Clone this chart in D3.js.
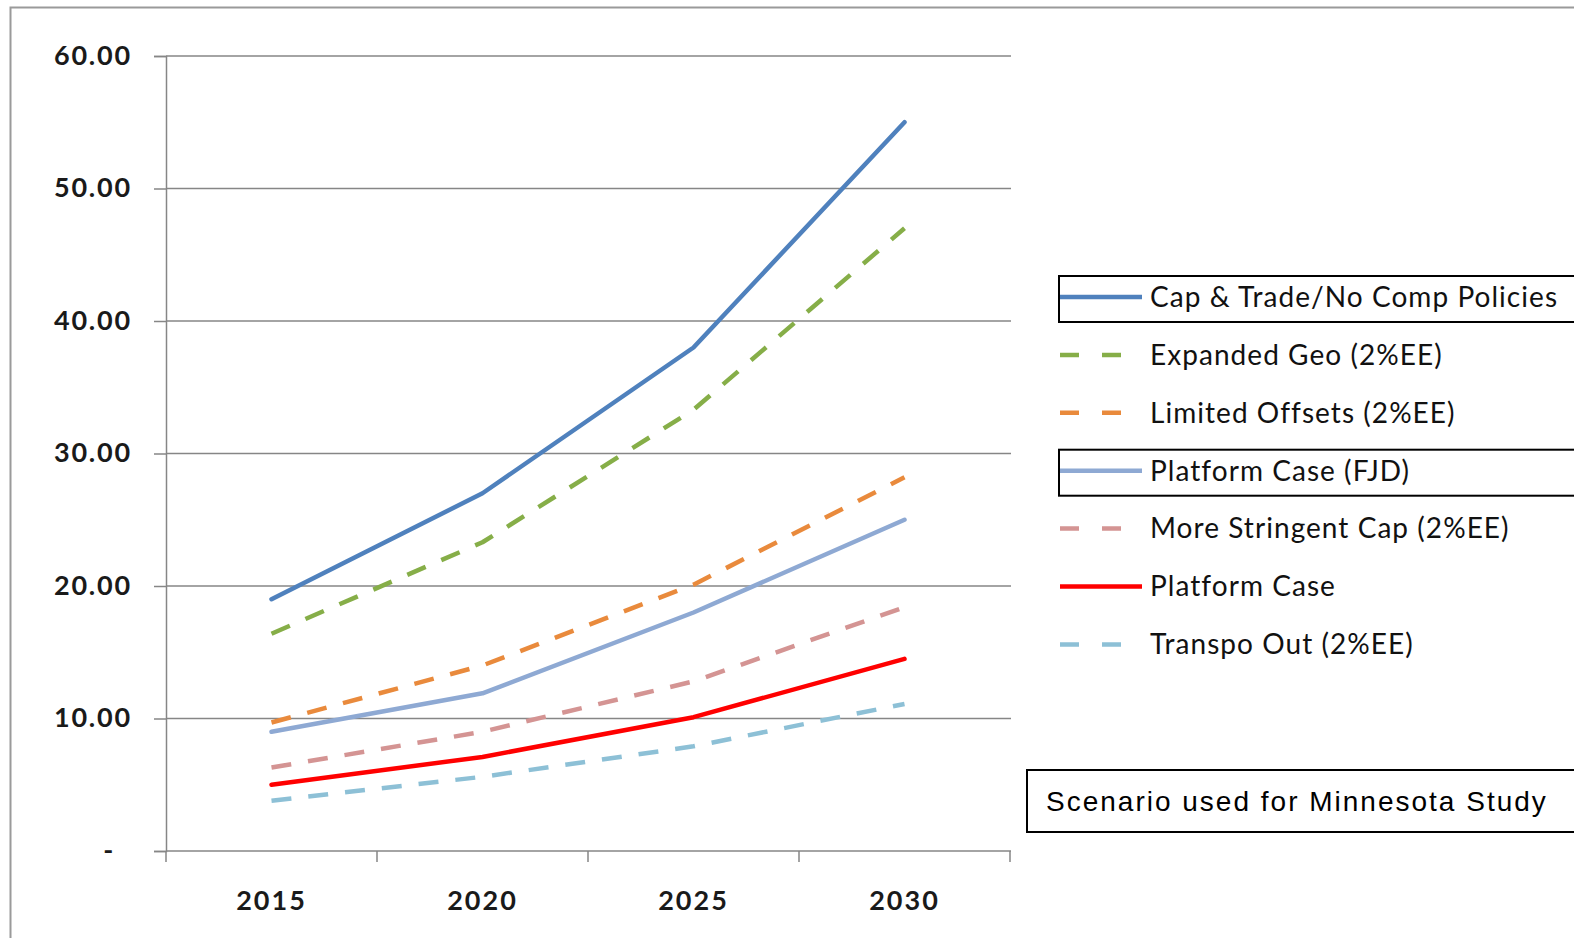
<!DOCTYPE html>
<html><head><meta charset="utf-8">
<script src="https://cdn.jsdelivr.net/npm/d3@7"></script>
<style>body{margin:0;background:#fff}svg{display:block}</style>
</head><body>
<svg id="c" width="1574" height="938"></svg>
<script>
const years = ["2015","2020","2025","2030"];
const yTicks = [0,10,20,30,40,50,60];
const seriesNames = ["Cap & Trade/No Comp Policies","Expanded Geo (2%EE)","Limited Offsets (2%EE)","Platform Case (FJD)","More Stringent Cap (2%EE)","Platform Case","Transpo Out (2%EE)"];
const capTrade = [19.0, 27.0, 38.0, 55.0];
const expandedGeo = [16.4, 23.3, 33.3, 47.0];
const limitedOffsets = [9.7, 14.0, 20.1, 28.2];
const platformFJD = [9.0, 11.9, 18.0, 25.0];
const moreStringent = [6.3, 9.0, 12.8, 18.4];
const platformCase = [5.0, 7.1, 10.1, 14.5];
const transpoOut = [3.8, 5.6, 7.9, 11.1];
const seriesValues = [capTrade, expandedGeo, limitedOffsets, platformFJD, moreStringent, platformCase, transpoOut];
const seriesColors = ["#4F81BD","#86AE48","#E98A3C","#8EA9D3","#D49493","#FF0000","#8DC0D6"];
const seriesDashed = [false,true,true,false,true,false,true];
const boxedLegend = ["Cap & Trade/No Comp Policies","Platform Case (FJD)"];
const noteText = "Scenario used for Minnesota Study";

(function(){
const svg = d3.select("#c");
// outer frame
svg.append("rect").attr("x",10.5).attr("y",7.5).attr("width",1600).attr("height",1000)
  .attr("fill","none").attr("stroke","#9a9a9a").attr("stroke-width",2);

const pLeft=166, pRight=1010, pTop=56, pBottom=851;
const x = d3.scaleBand().domain(years).range([pLeft,pRight]);
const y = d3.scaleLinear().domain([0,60]).range([pBottom,pTop]);
const gridC = "#868686";

// gridlines
svg.append("g").selectAll("line").data(yTicks.filter(d=>d>0)).join("line")
  .attr("x1",pLeft).attr("x2",pRight+1).attr("y1",d=>y(d)).attr("y2",d=>y(d))
  .attr("stroke",gridC).attr("stroke-width",1.5);

// y axis
const yAxis = svg.append("g").attr("transform",`translate(${pLeft},0)`)
  .call(d3.axisLeft(y).tickValues(yTicks).tickSize(12).tickPadding(22)
    .tickFormat(d=> d===0 ? "-" : d3.format(".2f")(d)));
yAxis.select(".domain").attr("stroke",gridC).attr("stroke-width",1.5);
yAxis.selectAll(".tick line").attr("stroke",gridC).attr("stroke-width",1.5);
yAxis.selectAll(".tick text").attr("font-family","Lato, 'DejaVu Sans', sans-serif")
  .attr("font-size",27).attr("font-weight","bold").attr("fill","#1a1a1a")
  .attr("letter-spacing",1.8).attr("dy","0.3em")
  .attr("dx",d=> d===0 ? -17 : 0);

// x axis
const xAxis = svg.append("g").attr("transform",`translate(0,${pBottom})`)
  .call(d3.axisBottom(x).tickSize(0).tickPadding(40));
xAxis.select(".domain").attr("stroke",gridC).attr("stroke-width",1.5).attr("d",`M${pLeft},0H${pRight+1}`);
xAxis.selectAll(".tick text").attr("font-family","Lato, 'DejaVu Sans', sans-serif")
  .attr("font-size",27).attr("font-weight","bold").attr("fill","#1a1a1a")
  .attr("letter-spacing",2);
const bounds = years.map(d=>x(d)).concat([pRight]);
xAxis.selectAll(".bt").data(bounds).join("line").attr("class","bt")
  .attr("x1",d=>d).attr("x2",d=>d).attr("y1",0).attr("y2",11)
  .attr("stroke",gridC).attr("stroke-width",1.5);

// lines
const line = d3.line().x((d,i)=>x(years[i])+x.bandwidth()/2).y(d=>y(d));
seriesValues.forEach((vals,i)=>{
  svg.append("path").datum(vals).attr("d",line).attr("fill","none")
    .attr("stroke",seriesColors[i]).attr("stroke-width",4.5)
    .attr("stroke-linecap", seriesDashed[i] ? "butt" : "round")
    .attr("stroke-linejoin","round")
    .attr("stroke-dasharray", seriesDashed[i] ? "20,17" : null);
});

// legend
const lg = svg.append("g");
const lx0 = 1060, ly0 = 297, lstep = 57.9;
seriesNames.forEach((name,i)=>{
  const cy = ly0 + i*lstep;
  if (boxedLegend.includes(name)) {
    lg.append("rect").attr("x",1059).attr("y",cy-21).attr("width",600).attr("height",46)
      .attr("fill","none").attr("stroke","#000").attr("stroke-width",2);
  }
  lg.append("line").attr("x1",lx0).attr("x2",lx0 + (seriesDashed[i] ? 62 : 82)).attr("y1",cy).attr("y2",cy)
    .attr("stroke",seriesColors[i]).attr("stroke-width",4.5)
    .attr("stroke-dasharray", seriesDashed[i] ? "19,23" : null);
  lg.append("text").attr("x",1150).attr("y",cy).attr("dy","0.35em")
    .attr("font-family","Lato, 'Open Sans', sans-serif").attr("font-size",28)
    .attr("letter-spacing",1.05)
    .attr("fill","#111").text(name);
});

// note box
svg.append("rect").attr("x",1027).attr("y",770).attr("width",600).attr("height",62)
  .attr("fill","#fff").attr("stroke","#000").attr("stroke-width",2);
svg.append("text").attr("x",1046).attr("y",801).attr("dy","0.35em")
  .attr("font-family","'Liberation Sans', Arial, sans-serif").attr("font-size",28)
  .attr("letter-spacing",2.0)
  .attr("fill","#000").text(noteText);
})();
</script>
</body></html>
